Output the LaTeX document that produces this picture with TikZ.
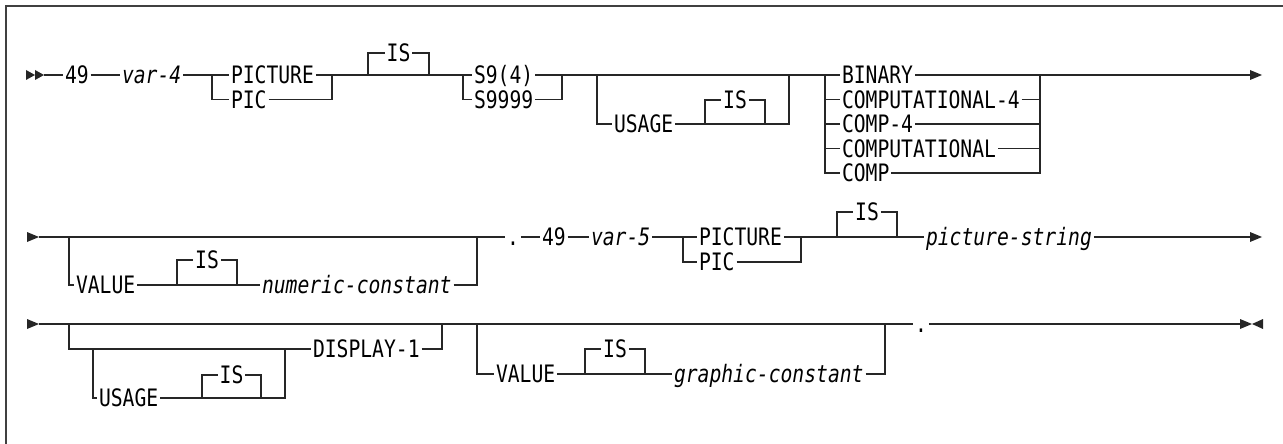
\documentclass[tikz,border=0pt]{standalone}
\usepackage{fontspec}
\newfontfamily\rrfont[FakeStretch=0.82]{DejaVu Sans Mono}
\begin{document}
\begin{tikzpicture}[x=1pt,y=-1pt,
  rr/.style={line width=1.4pt, draw=black!85},
  kw/.style={font=\rrfont\fontsize{24}{28}\selectfont, inner xsep=2pt, inner ysep=0pt, outer sep=0pt, text height=17pt, text depth=0pt, anchor=west},
  var/.style={kw, font=\rrfont\itshape\fontsize{24}{28}\selectfont},
  tip/.style={fill=black!85},
  frame/.style={line width=2pt, draw=black!75}]
\useasboundingbox (0,0) rectangle (1283,444);
\draw[frame] (6,444) -- (6,6) -- (1283,6);

% ---------- row 1 ----------
\fill[tip] (26,70) -- (35,75) -- (26,80) -- cycle;
\fill[tip] (35,70) -- (44,75) -- (35,80) -- cycle;
\coordinate (a0) at (44,75);
\node[kw] (n49a) at (63,75) {49};
\node[var] (v4) at (120,75) {var-4};
\coordinate (p1l) at (212,75); \coordinate (p1r) at (332,75);
\node[kw] (pic1) at (229,75) {PICTURE};
\node[kw] (pc1) at (229,99.5) {PIC};
\coordinate (i1l) at (368,75); \coordinate (i1r) at (429,75);
\node[kw,anchor=center] (is1) at (398.5,53) {IS};
\coordinate (s9l) at (463,75); \coordinate (s9r) at (562,75);
\node[kw] (s94) at (472,75) {S9(4)};
\node[kw] (s99) at (472,99.5) {S9999};
\coordinate (u1l) at (597,75); \coordinate (u1r) at (789,75);
\node[kw] (us1) at (612,124) {USAGE};
\coordinate (ui1l) at (705,124); \coordinate (ui1r) at (765,124);
\node[kw,anchor=center] (isu1) at (735,100) {IS};
\coordinate (c1l) at (825,75); \coordinate (c1r) at (1040,75);
\node[kw] (bin) at (840,75) {BINARY};
\node[kw] (cp4) at (840,99.5) {COMPUTATIONAL-4};
\node[kw] (cm4) at (840,124) {COMP-4};
\node[kw] (cpt) at (840,148.5) {COMPUTATIONAL};
\node[kw] (cmp) at (840,173) {COMP};
\coordinate (e1) at (1250,75);

\draw[rr] (a0) -- (n49a.west);
\draw[rr] (n49a.east) -- (v4.west);
\draw[rr] (v4.east) -- (pic1.west);
\draw[rr] (p1l) |- (pc1.west);
\draw[rr] (pc1.east) -| (p1r);
\draw[rr] (pic1.east) -- (s94.west);
\draw[rr] (i1l) |- (is1.west);
\draw[rr] (is1.east) -| (i1r);
\draw[rr] (s9l) |- (s99.west);
\draw[rr] (s99.east) -| (s9r);
\draw[rr] (s94.east) -- (bin.west);
\draw[rr] (u1l) |- (us1.west);
\draw[rr] (us1.east) -- (ui1r) -| (u1r);
\draw[rr] (ui1l) |- (isu1.west);
\draw[rr] (isu1.east) -| (ui1r);
\draw[rr] (c1l) |- (cp4.west);
\draw[rr] (c1l) |- (cm4.west);
\draw[rr] (c1l) |- (cpt.west);
\draw[rr] (c1l) |- (cmp.west);
\draw[rr] (cp4.east) -| (c1r);
\draw[rr] (cm4.east) -| (c1r);
\draw[rr] (cpt.east) -| (c1r);
\draw[rr] (cmp.east) -| (c1r);
\draw[rr] (bin.east) -- (e1);
\fill[tip] (1250,70) -- (1262,75) -- (1250,80) -- cycle;

% ---------- row 2 ----------
\fill[tip] (27,232) -- (39,237) -- (27,242) -- cycle;
\coordinate (b0) at (39,237);
\coordinate (v2l) at (69,237); \coordinate (v2r) at (477,237);
\node[kw] (val2) at (74,285) {VALUE};
\coordinate (vi2l) at (177,285); \coordinate (vi2r) at (237,285);
\node[kw,anchor=center] (isv2) at (207,260) {IS};
\node[var] (numc) at (260,285) {numeric-constant};
\node[kw] (dot2) at (505,237) {.};
\node[kw] (n49b) at (540,237) {49};
\node[var] (v5) at (589,237) {var-5};
\coordinate (p2l) at (683,237); \coordinate (p2r) at (801,237);
\node[kw] (pic2) at (697,237) {PICTURE};
\node[kw] (pc2) at (697,262) {PIC};
\coordinate (i2l) at (837,237); \coordinate (i2r) at (897,237);
\node[kw,anchor=center] (is2) at (867,212) {IS};
\node[var] (pstr) at (924,237) {picture-string};
\coordinate (e2) at (1250,237);

\draw[rr] (b0) -- (dot2.west);
\draw[rr] (v2l) |- (val2.west);
\draw[rr] (val2.east) -- (numc.west);
\draw[rr] (vi2l) |- (isv2.west);
\draw[rr] (isv2.east) -| (vi2r);
\draw[rr] (numc.east) -| (v2r);
\draw[rr] (dot2.east) -- (n49b.west);
\draw[rr] (n49b.east) -- (v5.west);
\draw[rr] (v5.east) -- (pic2.west);
\draw[rr] (p2l) |- (pc2.west);
\draw[rr] (pc2.east) -| (p2r);
\draw[rr] (pic2.east) -- (pstr.west);
\draw[rr] (i2l) |- (is2.west);
\draw[rr] (is2.east) -| (i2r);
\draw[rr] (pstr.east) -- (e2);
\fill[tip] (1250,232) -- (1262,237) -- (1250,242) -- cycle;

% ---------- row 3 ----------
\fill[tip] (27,319) -- (39,324) -- (27,329) -- cycle;
\coordinate (c0) at (39,324);
\coordinate (o3l) at (69,324); \coordinate (o3r) at (442,324);
\node[kw] (disp) at (311,349) {DISPLAY-1};
\coordinate (n3l) at (93,349); \coordinate (n3r) at (285,349);
\node[kw] (us3) at (97,398) {USAGE};
\coordinate (ni3l) at (202,398); \coordinate (ni3r) at (261,398);
\node[kw,anchor=center] (isn3) at (231.5,375) {IS};
\coordinate (v3l) at (477,324); \coordinate (v3r) at (885,324);
\node[kw] (val3) at (494,374) {VALUE};
\coordinate (vi3l) at (585,374); \coordinate (vi3r) at (645,374);
\node[kw,anchor=center] (isv3) at (615,349) {IS};
\node[var] (gc) at (672,374) {graphic-constant};
\node[kw] (dot3) at (913,324) {.};
\coordinate (e3) at (1240,324);

\draw[rr] (c0) -- (dot3.west);
\draw[rr] (o3l) |- (disp.west);
\draw[rr] (disp.east) -| (o3r);
\draw[rr] (n3l) |- (us3.west);
\draw[rr] (us3.east) -- (ni3r) -| (n3r);
\draw[rr] (ni3l) |- (isn3.west);
\draw[rr] (isn3.east) -| (ni3r);
\draw[rr] (v3l) |- (val3.west);
\draw[rr] (val3.east) -- (gc.west);
\draw[rr] (vi3l) |- (isv3.west);
\draw[rr] (isv3.east) -| (vi3r);
\draw[rr] (gc.east) -| (v3r);
\draw[rr] (dot3.east) -- (e3);
\fill[tip] (1240,319) -- (1252,324) -- (1240,329) -- cycle;
\fill[tip] (1263,319) -- (1252,324) -- (1263,329) -- cycle;
\end{tikzpicture}
\end{document}
